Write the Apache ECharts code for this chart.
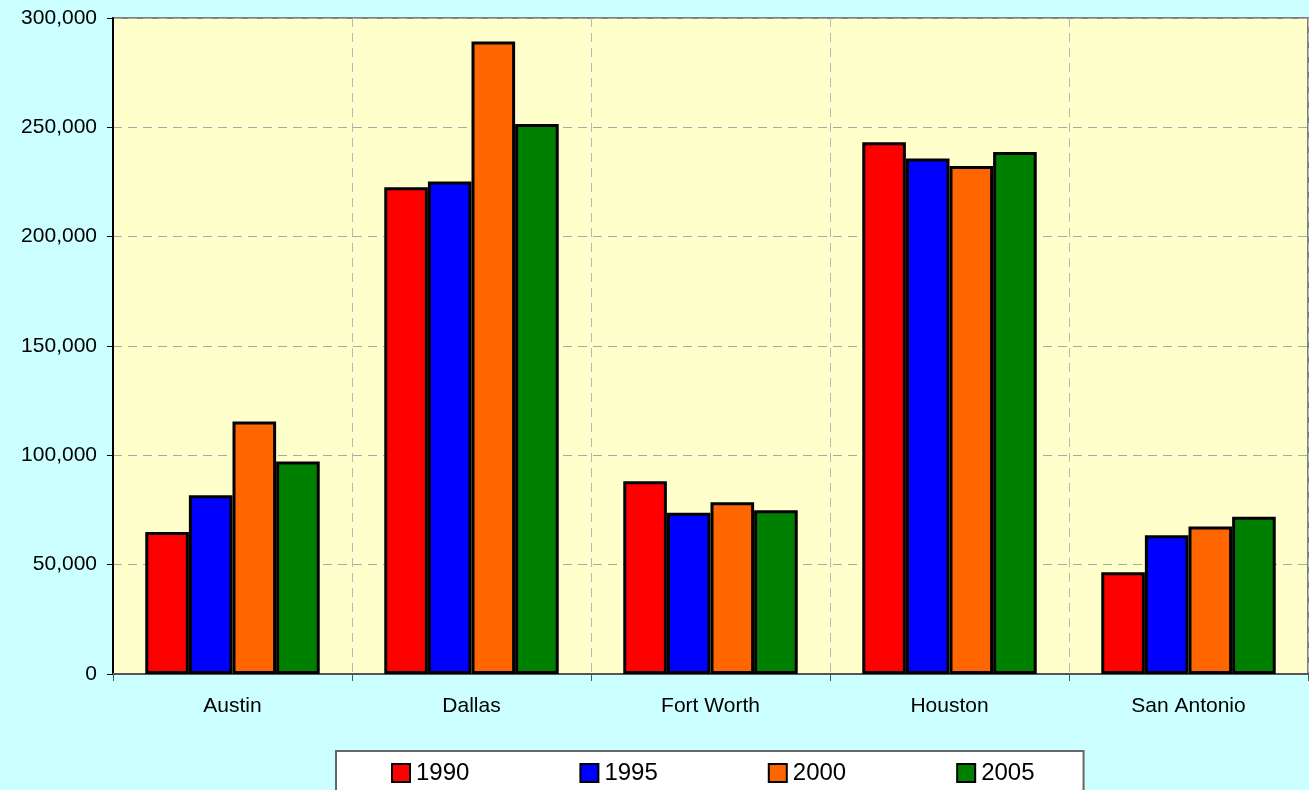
<!DOCTYPE html>
<html>
<head>
<meta charset="utf-8">
<script src="https://cdn.jsdelivr.net/npm/echarts@6/dist/echarts.min.js"></script>
<style>
html,body{margin:0;padding:0;background:#CCFFFF;}
#c{width:1309px;height:790px;}
</style>
</head>
<body>
<div id="c"></div>
<script>
const categories = ['Austin', 'Dallas', 'Fort Worth', 'Houston', 'San Antonio'];
const years = ['1990', '1995', '2000', '2005'];
const v1990 = [64900, 222600, 88200, 243200, 46500];
const v1995 = [81800, 225200, 73700, 235700, 63500];
const v2000 = [115500, 289200, 78600, 232300, 67500];
const v2005 = [97200, 251500, 74900, 238700, 71900];
const colors = ['#FF0000', '#0000FF', '#FF6600', '#008000'];
const yTicks = { min: 0, max: 300000, interval: 50000 };

const seriesData = [v1990, v1995, v2000, v2005];
const font = '"Liberation Sans", Arial, sans-serif';

const chart = echarts.init(document.getElementById('c'), null, { renderer: 'canvas' });
chart.setOption({
  backgroundColor: '#CCFFFF',
  animation: false,
  grid: {
    left: 113, top: 18, right: 1, bottom: 116,
    show: true, backgroundColor: '#FFFFCC',
    borderColor: '#808080', borderWidth: 2
  },
  legend: {
    left: 336, top: 751,
    data: years,
    icon: 'rect',
    itemWidth: 18, itemHeight: 18,
    itemGap: 110,
    padding: [10, 49, 30, 55],
    backgroundColor: '#FFFFFF',
    borderColor: '#666666', borderWidth: 2,
    itemStyle: { borderColor: '#000', borderWidth: 2 },
    textStyle: { fontSize: 24, color: '#000', fontFamily: font, padding: [0,0,0,1] }
  },
  xAxis: {
    type: 'category',
    data: categories,
    boundaryGap: true,
    axisLine: { lineStyle: { color: '#555555', width: 2 } },
    axisTick: { show: true, length: 7, lineStyle: { color: '#555555', width: 1 } },
    axisLabel: { fontSize: 21, color: '#000', fontFamily: font, margin: 22 },
    splitLine: { show: true, interval: 0, lineStyle: { color: '#B8B8B8', type: [9, 6], width: 1 } }
  },
  yAxis: {
    type: 'value',
    min: yTicks.min, max: yTicks.max, interval: yTicks.interval,
    axisLine: { show: true, lineStyle: { color: '#000', width: 2 } },
    axisTick: { show: true, length: 6, lineStyle: { color: '#000', width: 1 } },
    axisLabel: {
      fontSize: 21, color: '#000', fontFamily: font, margin: 16,
      formatter: v => v.toLocaleString('en-US')
    },
    splitLine: { show: true, lineStyle: { color: '#A8A8A8', type: [9, 6], width: 1 } }
  },
  series: years.map((y, i) => ({
    name: y,
    type: 'bar',
    data: seriesData[i],
    barGap: '0%',
    barCategoryGap: '27%',
    itemStyle: { color: colors[i], borderColor: '#000', borderWidth: 3 }
  }))
});
</script>
</body>
</html>
